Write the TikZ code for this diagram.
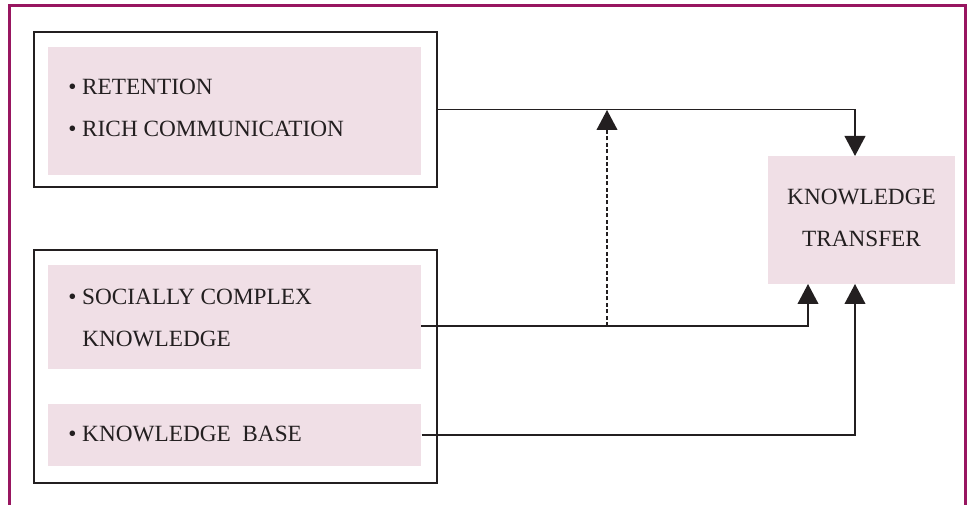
\documentclass[tikz,border=0pt]{standalone}
\usepackage{fontspec}
\setmainfont{Liberation Serif}
\usetikzlibrary{arrows.meta}
\definecolor{framecol}{HTML}{981660}
\definecolor{pinkbg}{HTML}{F0DFE6}
\definecolor{ink}{HTML}{231F20}
\begin{document}
\begin{tikzpicture}[x=0.75pt,y=-0.75pt,
  outerbox/.style={draw=ink, line width=1.5pt, rectangle, inner sep=0pt, anchor=north west},
  pinkbox/.style={fill=pinkbg, draw=none, rectangle, inner sep=0pt, anchor=north west},
  label/.style={text=ink, inner sep=0pt, anchor=base west, font=\fontsize{17.45pt}{31.5pt}\selectfont},
  conn/.style={draw=ink, line width=1.4pt},
  tip/.style={-{Triangle[length=15pt,width=15.5pt]}},
  dashconn/.style={draw=ink, line width=1.4pt, dash pattern=on 3pt off 1.8pt}
]
\useasboundingbox (0,0) rectangle (968,505);
% frame
\draw[framecol, line width=2.25pt, line join=miter] (9.5,505) -- (9.5,6) -- (965.5,6) -- (965.5,505);
% outer boxes
\node[outerbox, minimum width=302.25pt, minimum height=116.25pt] (box1) at (33,31) {};
\node[outerbox, minimum width=302.25pt, minimum height=174.75pt] (box2) at (33,249) {};
% pink boxes
\node[pinkbox, minimum width=279.75pt, minimum height=96pt] (pink1) at (48,47) {};
\node[pinkbox, minimum width=279.75pt, minimum height=78pt] (pink2) at (48,265) {};
\node[pinkbox, minimum width=279.75pt, minimum height=46.5pt] (pink3) at (48,404) {};
\node[pinkbox, minimum width=140.25pt, minimum height=96pt] (kt) at (768,156) {};
% texts
\node[label] (t1) at (68,95) {• RETENTION};
\node[label] (t2) at (68,137) {• RICH COMMUNICATION};
\node[label] (t3) at (68,305) {• SOCIALLY COMPLEX};
\node[label] (t4) at (82,347) {KNOWLEDGE};
\node[label] (t5) at (68,442) {• KNOWLEDGE\hspace{0.5em}BASE};
\node[label, anchor=base] (t6) at (861.5,205) {KNOWLEDGE};
\node[label, anchor=base] (t7) at (861.5,247) {TRANSFER};
% connector coordinates
\coordinate (b1out) at (436,109.5);
\coordinate (ktTop) at (855,156);
\coordinate (ktBotL) at (808,284);
\coordinate (ktBotR) at (855,284);
\coordinate (p2out) at (421,326);
\coordinate (dashStart) at (607,326);
\coordinate (dashEnd) at (607,110);
% connectors
\draw[conn, tip] (b1out) -| (ktTop);
\draw[conn, tip] (p2out) -| (ktBotL);
\draw[conn, tip] (pink3.east) -| (ktBotR);
\draw[dashconn, tip] (dashStart) -- (dashEnd);
\end{tikzpicture}
\end{document}
